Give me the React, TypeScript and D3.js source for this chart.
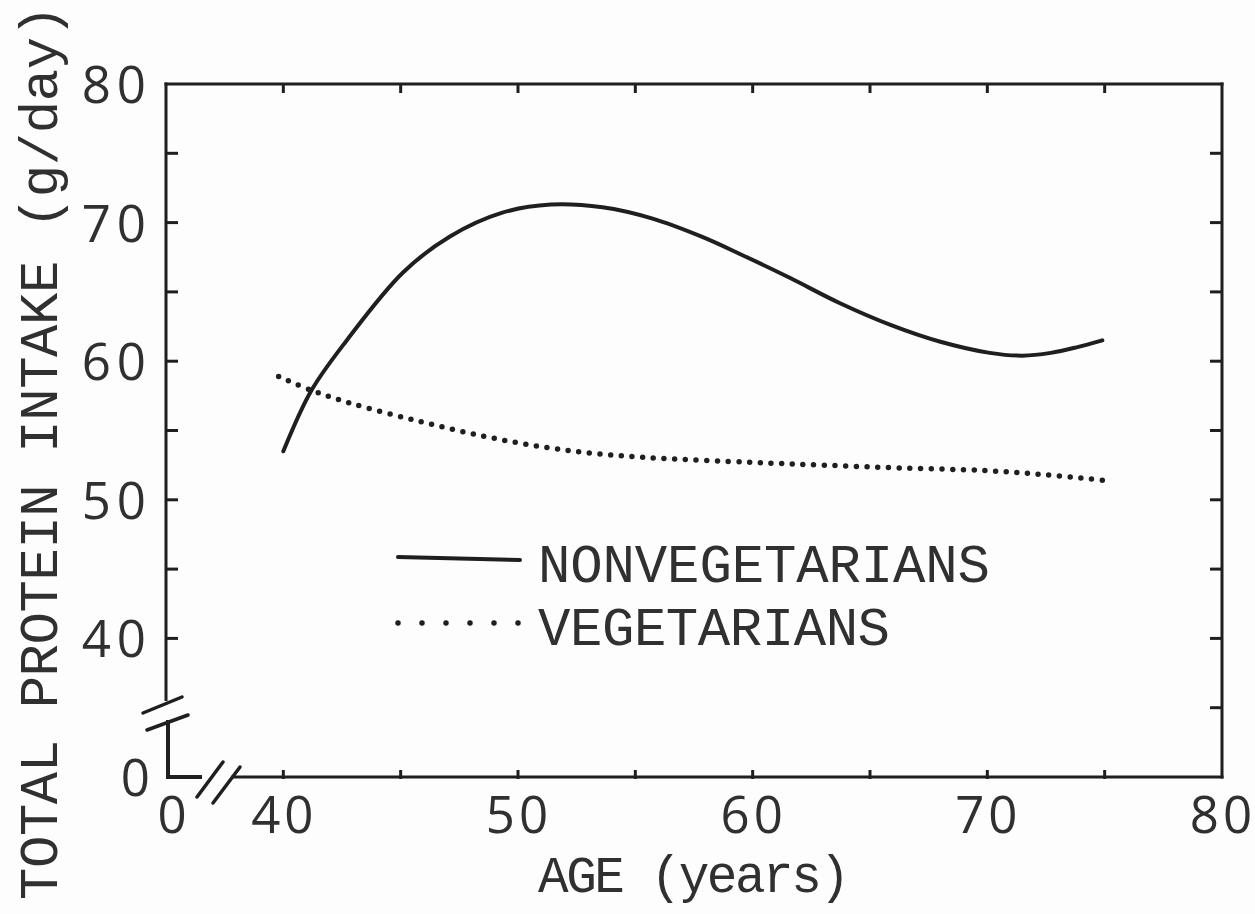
import React from "react";
import * as d3 from "d3";

// ---- data ----
const nonVegAges = [40, 41.2, 42.7, 45.1, 47.1, 49.3, 51.4, 53.6, 55.7, 57.8, 59.5, 61.6, 63.7, 65.9, 68.0, 70.1, 71.5, 72.7, 73.8, 74.9];
const nonVegValues = [53.5, 57.9, 61.5, 66.4, 69.0, 70.7, 71.3, 71.1, 70.3, 69.0, 67.7, 66.0, 64.2, 62.6, 61.4, 60.6, 60.4, 60.6, 61.0, 61.5];

const vegAges = [39.8, 41.2, 42.8, 45.7, 48.5, 51.1, 53.5, 56, 60, 63, 66.3, 70, 72.5, 75];
const vegValues = [58.9, 57.9, 57.0, 55.7, 54.6, 53.8, 53.3, 53.0, 52.7, 52.5, 52.3, 52.1, 51.8, 51.4];

const xTicks = [40, 45, 50, 55, 60, 65, 70, 75];
const xTickLabels = [40, 50, 60, 70, 80];
const yTicksLeft = [40, 45, 50, 55, 60, 65, 70, 75];
const yTicksRight = [35, 40, 45, 50, 55, 60, 65, 70, 75];
const yTickLabels = [40, 50, 60, 70, 80];
const seriesNames = ["NONVEGETARIANS", "VEGETARIANS"];
const xTitle = "AGE (years)";
const yTitle = "TOTAL PROTEIN INTAKE (g/day)";

const W = 1255;
const H = 914;
const L = 166, R = 1222, T = 84, B = 777;
const INK = "#1f1f1f";
const TXT = "#303030";
const FONT = "'Liberation Mono', 'DejaVu Sans Mono', monospace";
const NUMFONT = "'Open Sans', 'DejaVu Sans', sans-serif";

export default function App() {
  const x = d3.scaleLinear().domain([35, 80]).range([L, R]);
  const y = d3.scaleLinear().domain([30, 80]).range([B, T]);

  const line = d3
    .line<[number, number]>()
    .x((d) => x(d[0]))
    .y((d) => y(d[1]))
    .curve(d3.curveCatmullRom.alpha(0.5));

  const nonVeg = nonVegAges.map((a, i) => [a, nonVegValues[i]] as [number, number]);
  const veg = vegAges.map((a, i) => [a, vegValues[i]] as [number, number]);

  const yBreak = y(35.6);
  const xAxisStart = 233;

  return (
    <svg
      width={W}
      height={H}
      viewBox={`0 0 ${W} ${H}`}
      style={{ position: "absolute", left: 0, top: 0, background: "#fdfdfd" }}
    >
      <rect x={0} y={0} width={W} height={H} fill="#fdfdfd" />
      {/* frame */}
      <g stroke={INK} strokeWidth={3} fill="none" strokeLinecap="square">
        <line x1={L} y1={T} x2={R} y2={T} />
        <line x1={R} y1={T} x2={R} y2={B} />
        <line x1={L} y1={T} x2={L} y2={yBreak} />
        <line x1={xAxisStart} y1={B} x2={R} y2={B} />
      </g>
      {/* axis breaks */}
      <g stroke={INK} strokeWidth={3.5} fill="none" strokeLinecap="round">
        <line x1={L - 23} y1={713} x2={L + 16} y2={697} />
        <line x1={L - 19} y1={730} x2={L + 22} y2={715} />
        <polyline points={`${L + 2},722 ${L + 2},${B} ${L + 34},${B}`} strokeLinecap="square" strokeWidth={4} />
        <line x1={197} y1={797} x2={223} y2={762} />
        <line x1={213} y1={803} x2={240} y2={767} />
      </g>
      {/* ticks */}
      <g stroke={INK} strokeWidth={3}>
        {xTicks.map((t) => (
          <line key={"bt" + t} x1={x(t)} y1={B + 2} x2={x(t)} y2={B - 7} />
        ))}
        {xTicks.map((t) => (
          <line key={"tt" + t} x1={x(t)} y1={T} x2={x(t)} y2={T + 9} />
        ))}
        {yTicksLeft.map((t) => (
          <line key={"lt" + t} x1={L} y1={y(t)} x2={L + 12} y2={y(t)} />
        ))}
        {yTicksRight.map((t) => (
          <line key={"rt" + t} x1={R} y1={y(t)} x2={R - 12} y2={y(t)} />
        ))}
      </g>
      {/* tick labels */}
      <g fill={TXT} fontFamily={NUMFONT} fontSize={51}>
        {xTickLabels.map((t) => (
          <text key={"xl" + t} x={x(t) + 1} y={833} textAnchor="middle" letterSpacing={4}>
            {t}
          </text>
        ))}
        <text x={172} y={833} textAnchor="middle">0</text>
        {yTickLabels.map((t) => (
          <text key={"yl" + t} x={152} y={y(t) + 19} textAnchor="end" letterSpacing={6}>
            {t}
          </text>
        ))}
        <text x={150} y={B + 19} textAnchor="end">0</text>
      </g>
      {/* series */}
      <path d={line(nonVeg) || ""} fill="none" stroke={INK} strokeWidth={4} strokeLinecap="round" />
      <path
        d={line(veg) || ""}
        fill="none"
        stroke={INK}
        strokeWidth={5.5}
        strokeLinecap="round"
        strokeDasharray="0 10.7"
      />
      {/* legend */}
      <line x1={398} y1={557} x2={520} y2={560} stroke={INK} strokeWidth={4} strokeLinecap="round" />
      <line x1={398} y1={623} x2={519} y2={623} stroke={INK} strokeWidth={5.5} strokeLinecap="round" strokeDasharray="0 24" />
      <g fill={TXT} fontFamily={FONT} fontSize={54}>
        <text x={538} y={582} textLength={452} lengthAdjust="spacing">{seriesNames[0]}</text>
        <text x={538} y={645} textLength={352} lengthAdjust="spacing">{seriesNames[1]}</text>
        <text x={538} y={892} fontSize={51} textLength={312} lengthAdjust="spacing">{xTitle}</text>
        <text
          transform="translate(57,900) rotate(-90)"
          x={0}
          y={0}
          textLength={895}
          lengthAdjust="spacing"
        >
          {yTitle}
        </text>
      </g>
    </svg>
  );
}
